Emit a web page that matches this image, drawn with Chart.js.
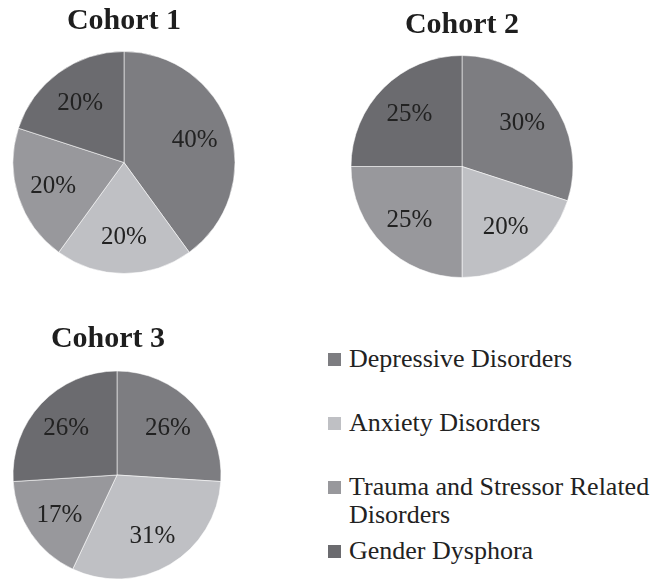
<!DOCTYPE html>
<html>
<head>
<meta charset="utf-8">
<script src="https://cdn.jsdelivr.net/npm/chart.js@4.4.1/dist/chart.umd.min.js"></script>
<style>
  html, body { margin: 0; padding: 0; background: #ffffff; }
  body { width: 662px; height: 580px; position: relative; overflow: hidden; font-family: "Liberation Serif", serif; }
  .box { position: absolute; }
  .legend-item { position: absolute; left: 328px; width: 330px; height: 64px; }
  .legend-item .sw { position: absolute; left: 0; width: 13px; height: 13px; }
  .legend-item .tx { position: absolute; left: 21px; top: 0; width: 312px; font-size: 26px; line-height: 28px; color: #222222; }
</style>
</head>
<body>
<div class="box" id="b1" style="left:4px;top:0px;width:240px;height:300px;"><canvas id="c1"></canvas></div>
<div class="box" id="b2" style="left:342px;top:0px;width:240px;height:300px;"><canvas id="c2"></canvas></div>
<div class="box" id="b3" style="left:0px;top:320px;width:234px;height:260px;"><canvas id="c3"></canvas></div>
<div id="legend"></div>
<script>
// ---- data ----
const categories = ['Depressive Disorders', 'Anxiety Disorders', 'Trauma and Stressor Related Disorders', 'Gender Dysphora'];
const cohortTitles = ['Cohort 1', 'Cohort 2', 'Cohort 3'];
const cohort1 = [40, 20, 20, 20];
const cohort2 = [30, 20, 25, 25];
const cohort3 = [26, 31, 17, 26];
const sliceColors = ['#7d7d81', '#bfc0c4', '#98989c', '#6b6b6f'];

// ---- plugin drawing the cohort title and percentage labels ----
const pieText = {
  id: 'pieText',
  afterDatasetsDraw(chart, args, opts) {
    const ctx = chart.ctx;
    ctx.save();
    ctx.fillStyle = '#1e1e1e';
    ctx.font = 'bold 30px "Liberation Serif", serif';
    ctx.textAlign = 'center';
    ctx.textBaseline = 'alphabetic';
    ctx.fillText(opts.title, opts.titleX, opts.titleY);

    const meta = chart.getDatasetMeta(0);
    const data = chart.data.datasets[0].data;
    ctx.font = '25px "Liberation Serif", serif';
    ctx.fillStyle = '#222222';
    ctx.textBaseline = 'middle';
    meta.data.forEach((arc, i) => {
      const p = arc.getProps(['x', 'y', 'startAngle', 'endAngle', 'outerRadius'], true);
      const mid = (p.startAngle + p.endAngle) / 2;
      const r = p.outerRadius * opts.labelFrac;
      ctx.fillText(data[i] + '%', p.x + Math.cos(mid) * r, p.y + Math.sin(mid) * r + 1);
    });
    ctx.restore();
  }
};

function makePie(id, values, title, radius, pad, titleX, titleY) {
  return new Chart(document.getElementById(id), {
    type: 'pie',
    data: {
      labels: categories,
      datasets: [{
        data: values,
        backgroundColor: sliceColors,
        borderColor: 'rgba(255,255,255,0.55)',
        borderWidth: 1
      }]
    },
    options: {
      responsive: true,
      maintainAspectRatio: false,
      animation: false,
      events: [],
      radius: radius,
      layout: { padding: pad },
      plugins: {
        legend: { display: false },
        tooltip: { enabled: false },
        title: { display: false },
        pieText: { title: title, titleX: titleX, titleY: titleY, labelFrac: 0.67 }
      }
    },
    plugins: [pieText]
  });
}

makePie('c1', cohort1, cohortTitles[0], 111, { top: 25 }, 120, 29);
makePie('c2', cohort2, cohortTitles[1], 111, { top: 33 }, 120, 33);
makePie('c3', cohort3, cohortTitles[2], 104, { top: 50 }, 108, 27);

// ---- legend (HTML, built from the data arrays) ----
const legend = document.getElementById('legend');
categories.forEach((name, i) => {
  const item = document.createElement('div');
  item.className = 'legend-item';
  item.style.top = (345 + i * 64) + 'px';
  const sw = document.createElement('div');
  sw.className = 'sw';
  sw.style.top = '8px';
  sw.style.background = sliceColors[i];
  const tx = document.createElement('div');
  tx.className = 'tx';
  tx.textContent = name;
  item.appendChild(sw);
  item.appendChild(tx);
  legend.appendChild(item);
});
</script>
</body>
</html>
